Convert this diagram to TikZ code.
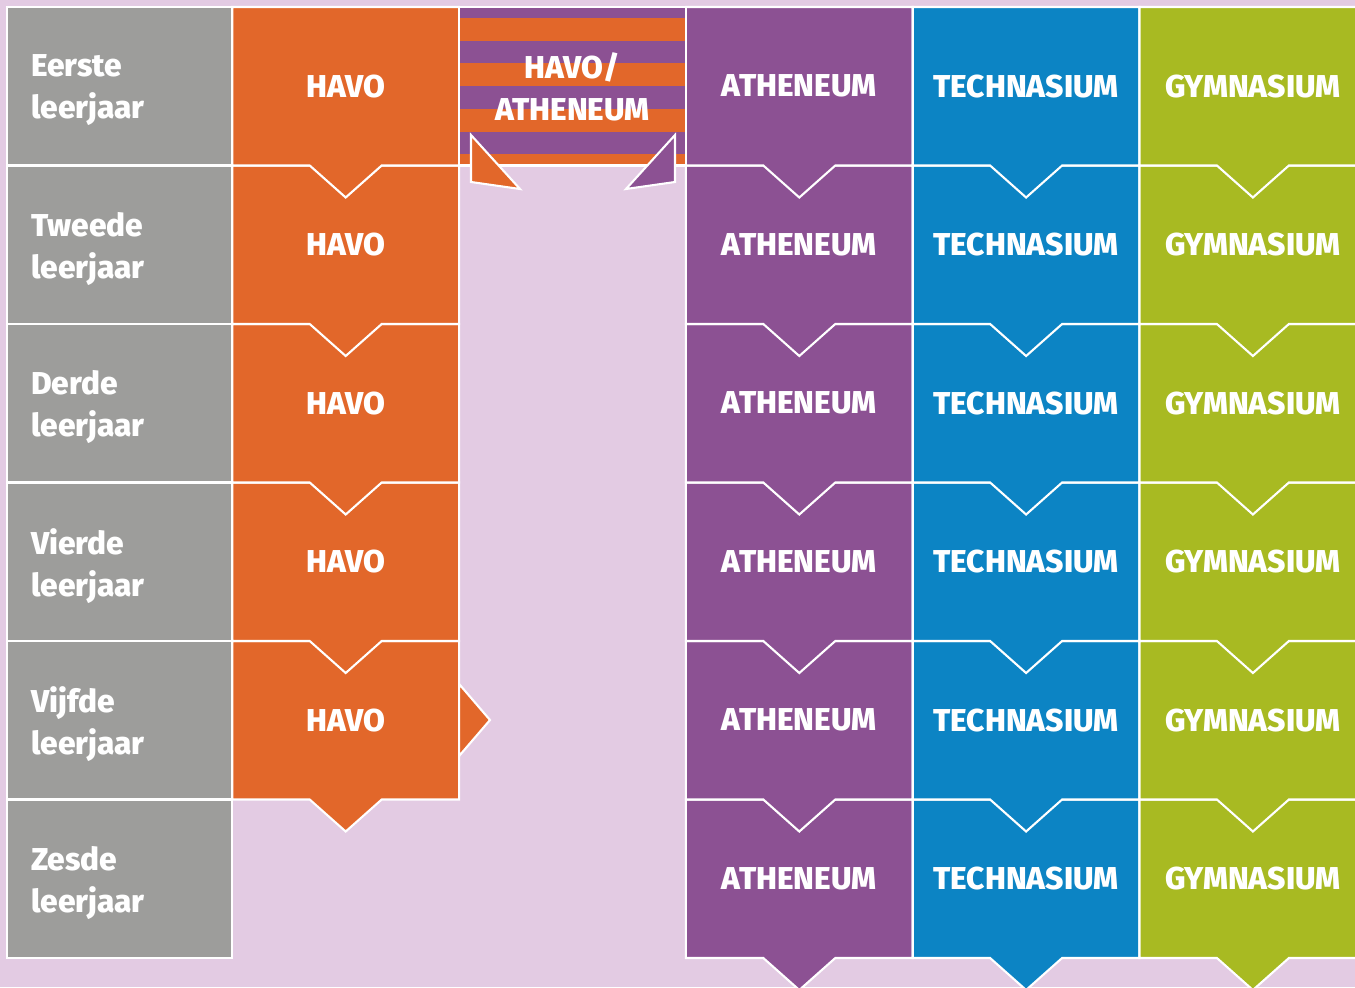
\documentclass[tikz,border=0pt]{standalone}
\usepackage{fontspec}
\setmainfont{Fira Sans}[BoldFont={Fira Sans ExtraBold}]
\usepackage{tikz}
\usetikzlibrary{calc}
\definecolor{bg}{HTML}{E3CBE3}
\definecolor{grey}{HTML}{9D9D9B}
\definecolor{havo}{HTML}{E2672A}
\definecolor{vwo}{HTML}{8C5193}
\definecolor{techn}{HTML}{0C84C4}
\definecolor{gymn}{HTML}{A8BA22}
\tikzset{
  cell/.style={draw=white, line width=1.2pt},
  lab/.style={text=white, font=\bfseries\fontsize{18}{24}\selectfont, align=center},
  yearlab/.style={lab, align=left, anchor=west},
}

\begin{document}
\begin{tikzpicture}[x=0.02cm,y=-0.02cm]
  \fill[bg] (0,0) rectangle (1355,987);
  \useasboundingbox (0,0) rectangle (1355,987);
  \clip (0,0) rectangle (1355,987);

  % year column
  \foreach \r/\yr in {1/Eerste,2/Tweede,3/Derde,4/Vierde,5/Vijfde,6/Zesde}{
    \pgfmathsetmacro{\yt}{7+158.5*(\r-1)}
    \pgfmathsetmacro{\yb}{\yt+158.5}
    \draw[cell,fill=grey] (7,\yt) rectangle (232.3,\yb);
    \node[yearlab] (year\r) at (25,{(\yt+\yb)/2+4}) {\yr\\leerjaar};
  }

  % school columns, bottom row first so the notch lies on top
  \foreach \c/\col/\txt/\last in {1/havo/HAVO/5,3/vwo/ATHENEUM/6,4/techn/TECHNASIUM/6,5/gymn/GYMNASIUM/6}{
    \pgfmathsetmacro{\xl}{5.5+226.8*\c}
    \pgfmathsetmacro{\xr}{\xl+226.8}
    \pgfmathsetmacro{\xc}{\xl+113.4}
    \foreach \r in {\last,...,1}{
      \pgfmathsetmacro{\yt}{7+158.5*(\r-1)}
      \pgfmathsetmacro{\yb}{\yt+158.5}
      \draw[cell,fill=\col] (\xl,\yt) -- (\xr,\yt) -- (\xr,\yb) -- ({\xc+36},\yb)
        -- (\xc,{\yb+32}) -- ({\xc-36},\yb) -- (\xl,\yb) -- cycle;
      \node[lab] (\col\r) at (\xc,{(\yt+\yb)/2}) {\txt};
    }
  }

  % havo to atheneum, striped
  \begin{scope}
    \clip (459.1,7) rectangle (685.9,165.5);
    \fill[vwo] (459.1,7) rectangle (685.9,165.5);
    \foreach \s in {0,...,3}
      \fill[havo] (459.1,{18+45.4*\s}) rectangle (685.9,{40.7+45.4*\s});
  \end{scope}
  \draw[cell] (459.1,7) rectangle (685.9,165.5);
  \node[lab] (mix) at (572.5,87) {HAVO/\\ATHENEUM};
  \draw[cell,fill=havo] (471,135) -- (471,182) -- (520,189) -- cycle;
  \draw[cell,fill=vwo] (675,135) -- (675,182) -- (626,189) -- cycle;

  % doorstroom havo 5
  \draw[cell,fill=havo] (459.1,684) -- (490,720) -- (459.1,756) -- cycle;
\end{tikzpicture}
\end{document}
